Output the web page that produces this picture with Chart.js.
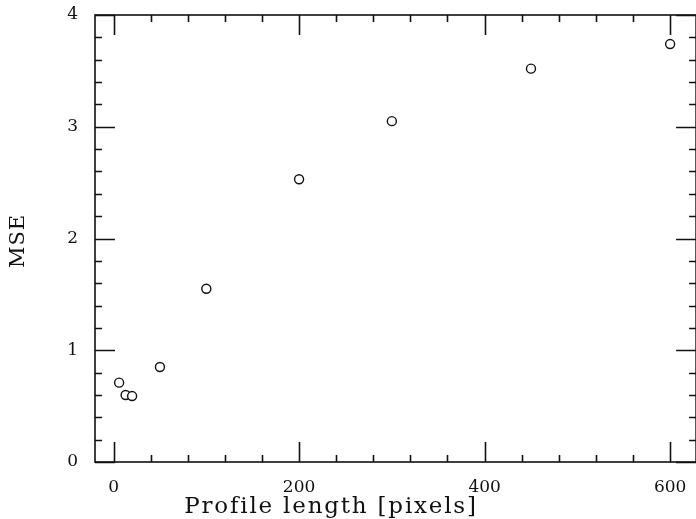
<!DOCTYPE html>
<html>
<head>
<meta charset="utf-8">
<script src="https://cdn.jsdelivr.net/npm/chart.js@4/dist/chart.umd.min.js"></script>
<style>
  html, body { margin: 0; padding: 0; background: #fff; overflow: hidden; }
  #wrap { width: 702px; height: 519px; }
</style>
</head>
<body>
<div id="wrap"><canvas id="mseChart" width="702" height="519"></canvas></div>
<script>
// data
const profileLength = [6, 13, 20, 50, 100, 200, 300, 450, 600];
const mseValues = [0.71, 0.60, 0.59, 0.85, 1.55, 2.53, 3.05, 3.52, 3.74];

const xMajorTicks = [0, 200, 400, 600];
const xMinorStep = 40;
const yMajorTicks = [0, 1, 2, 3, 4];
const yMinorStep = 0.2;

const xTitle = 'Profile length [pixels]';
const yTitle = 'MSE';

const serif = 'DejaVu Serif';

// frame with inward ticks on all four sides, plus axis titles
const framePlugin = {
    id: 'frameTicks',
    beforeDatasetsDraw(chart) {
        const ctx = chart.ctx;
        const a = chart.chartArea;
        const xs = chart.scales.x;
        const ys = chart.scales.y;
        ctx.save();
        ctx.strokeStyle = '#111';
        ctx.lineWidth = 1.6;
        ctx.strokeRect(a.left, a.top, a.right - a.left, a.bottom - a.top);

        ctx.beginPath();
        // x ticks
        for (let v = Math.ceil(xs.min / xMinorStep) * xMinorStep; v <= xs.max; v += xMinorStep) {
            const px = Math.round(xs.getPixelForValue(v)) + 0.5;
            const len = xMajorTicks.includes(v) ? 20 : 7;
            ctx.moveTo(px, a.bottom);
            ctx.lineTo(px, a.bottom - len);
            ctx.moveTo(px, a.top);
            ctx.lineTo(px, a.top + len);
        }
        // y ticks
        const n = Math.round((ys.max - ys.min) / yMinorStep);
        for (let i = 0; i <= n; i++) {
            const v = +(ys.min + i * yMinorStep).toFixed(2);
            const py = Math.round(ys.getPixelForValue(v)) + 0.5;
            const len = yMajorTicks.includes(v) ? 20 : 7;
            ctx.moveTo(a.left, py);
            ctx.lineTo(a.left + len, py);
            ctx.moveTo(a.right, py);
            ctx.lineTo(a.right - len, py);
        }
        ctx.stroke();

        // axis titles
        ctx.fillStyle = '#111';
        ctx.textAlign = 'center';
        ctx.textBaseline = 'alphabetic';
        ctx.font = '23px "' + serif + '"';
        ctx.letterSpacing = '1.8px';
        ctx.fillText(xTitle, 331, 513);

        ctx.translate(24, 241);
        ctx.rotate(-Math.PI / 2);
        ctx.font = '21px "' + serif + '"';
        ctx.letterSpacing = '1px';
        ctx.fillText(yTitle, 0, 0);
        ctx.restore();
    }
};

const ctx = document.getElementById('mseChart').getContext('2d');

new Chart(ctx, {
    type: 'scatter',
    data: {
        datasets: [{
            label: yTitle,
            data: profileLength.map((x, i) => ({ x: x, y: mseValues[i] })),
            pointStyle: 'circle',
            pointRadius: 4.5,
            pointBorderWidth: 1.4,
            pointBorderColor: '#111',
            pointBackgroundColor: '#fff'
        }]
    },
    options: {
        responsive: false,
        animation: false,
        devicePixelRatio: 1,
        layout: { padding: { top: 15, right: 0, left: 0, bottom: 0 } },
        plugins: {
            legend: { display: false },
            tooltip: { enabled: false }
        },
        scales: {
            x: {
                type: 'linear',
                min: -20,
                max: 628,
                grid: { display: false },
                border: { display: false },
                afterBuildTicks: scale => {
                    scale.ticks = xMajorTicks.map(v => ({ value: v }));
                },
                afterFit: scale => {
                    scale.height = 57;
                    scale.paddingLeft = 0;
                    scale.paddingRight = 0;
                },
                ticks: {
                    color: '#111',
                    padding: 7,
                    maxRotation: 0,
                    font: { family: serif, size: 17 }
                }
            },
            y: {
                type: 'linear',
                min: 0,
                max: 4,
                grid: { display: false },
                border: { display: false },
                afterBuildTicks: scale => {
                    scale.ticks = yMajorTicks.map(v => ({ value: v }));
                },
                afterFit: scale => {
                    scale.width = 95;
                    scale.paddingTop = 0;
                    scale.paddingBottom = 0;
                },
                ticks: {
                    color: '#111',
                    padding: 9,
                    font: { family: serif, size: 17 }
                }
            }
        }
    },
    plugins: [framePlugin]
});
</script>
</body>
</html>
